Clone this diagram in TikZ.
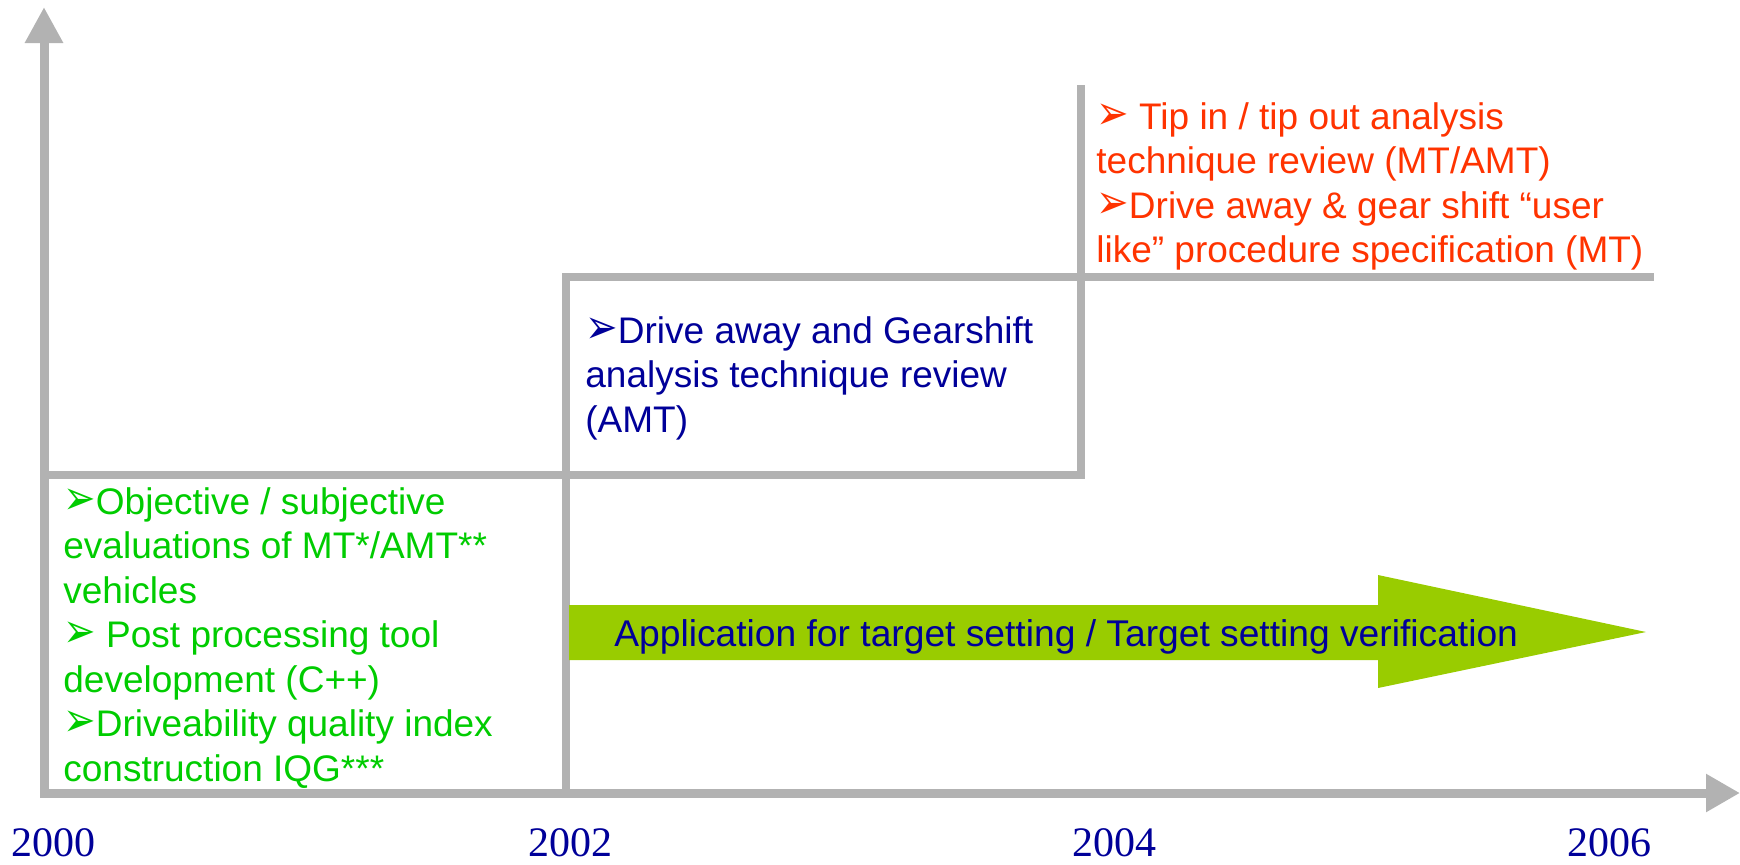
\documentclass[tikz,border=0pt]{standalone}
\usepackage{fontspec}
\setmainfont{Liberation Sans}
\newfontfamily\yearfont{Liberation Serif}
\newfontfamily\dingfont{DejaVu Sans}
\usetikzlibrary{arrows.meta}
\definecolor{axisgray}{RGB}{178,178,178}
\definecolor{stepgreen}{RGB}{0,204,0}
\definecolor{stepblue}{RGB}{0,0,153}
\definecolor{stepred}{RGB}{255,51,0}
\definecolor{arrowgreen}{RGB}{153,204,0}
\newcommand{\pointer}{{\dingfont\scalebox{1.05}[1.3]{➢}}}
\tikzset{
  axis/.style={draw=axisgray, line width=4.5pt,
    {Triangle[length=18pt,width=18pt]}-{Triangle[length=17pt,width=18pt]}},
  stepline/.style={draw=axisgray, line width=4pt},
  steptext/.style={anchor=north west, inner sep=0pt, align=left,
    font=\fontsize{18.5}{22.25}\selectfont},
  year/.style={anchor=base, inner sep=0pt, text=stepblue,
    font=\yearfont\fontsize{21}{21}\selectfont}
}

\begin{document}
\begin{tikzpicture}[x=0.5pt, y=-0.5pt]
  \useasboundingbox (0,0) rectangle (1740,864);

  % Corners of the steps
  \coordinate (top) at (44,7);
  \coordinate (o) at (44,793);
  \coordinate (end) at (1740,793);
  \coordinate (s1) at (44,475);
  \coordinate (s1r) at (1081,475);
  \coordinate (s2b) at (566,793);
  \coordinate (s2) at (566,277);
  \coordinate (s2r) at (1654,277);
  \coordinate (s3) at (1081,85);

  % Steps
  \draw[stepline] (s1) -- (s1r) -- (s3);
  \draw[stepline] (s2b) -- (s2) -- (s2r);

  % Axes
  \draw[axis] (top) -- (o) -- (end);

  % Green arrow
  \fill[arrowgreen] (569,605) -- (1378,605) -- (1378,575) -- (1646,632)
    -- (1378,688) -- (1378,660) -- (569,660) -- cycle;
  \node[anchor=base west, inner sep=0pt, text=stepblue,
    font=\fontsize{18.6}{18.6}\selectfont] (app) at (614,646)
    {Application for target setting / Target setting verification};

  % Step texts
  \node[steptext, text=stepgreen] (green) at (63,487)
    {\pointer Objective / subjective\\evaluations of MT*/AMT**\\vehicles\\
     \pointer{} Post processing tool\\development (C++)\\
     \pointer Driveability quality index\\construction IQG***};
  \node[steptext, text=stepblue] (blue) at (585,316)
    {\pointer Drive away and Gearshift\\analysis technique review\\(AMT)};
  \node[steptext, text=stepred] (red) at (1096,102)
    {\pointer{} Tip in / tip out analysis\\technique review (MT/AMT)\\
     \pointer Drive away \& gear shift “user\\like” procedure specification (MT)};

  % Years
  \node[year] (y2000) at (53,856) {2000};
  \node[year] (y2002) at (570,856) {2002};
  \node[year] (y2004) at (1114,856) {2004};
  \node[year] (y2006) at (1609,856) {2006};
\end{tikzpicture}
\end{document}
